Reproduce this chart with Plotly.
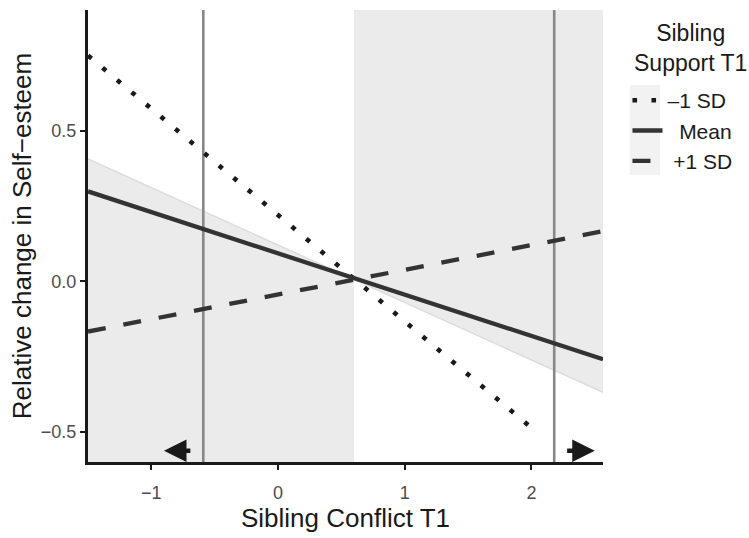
import plotly.graph_objects as go

# ---- data ----
x_range = [-1.5, 2.565]
y_range = [-0.6, 0.9]

minus_sd_x = [-1.5, 2.05]
minus_sd_y = [0.749, -0.504]

mean_x = [-1.5, 2.565]
mean_y = [0.298, -0.259]

plus_sd_x = [-1.5, 2.565]
plus_sd_y = [-0.167, 0.166]

band_x = [-1.5, 0.6, 2.565]
band_y = [0.406, 0.005, -0.369]

jn_point = 0.6
vlines_x = [-0.59, 2.18]

arrow_left = {"x": [-0.68, -0.90], "y": -0.563}
arrow_right = {"x": [2.27, 2.50], "y": -0.563}

x_ticks = [-1, 0, 1, 2]
x_tick_labels = ["\u22121", "0", "1", "2"]
y_ticks = [-0.5, 0.0, 0.5]
y_tick_labels = ["\u22120.5", "0.0", "0.5"]

NB = "\u00a0"
series_names = ["\u20131 SD", NB * 2 + "Mean", NB + "+1 SD"]
legend_title = "Sibling<br>Support T1"

FONT = "Liberation Sans, Arial, sans-serif"
FILL = "#ebebeb"

fig = go.Figure()

# shaded regions (significance ribbon)
left_x = [band_x[0], band_x[1], band_x[1], band_x[0]]
left_y = [band_y[0], band_y[1], y_range[0], y_range[0]]
fig.add_trace(go.Scatter(x=left_x, y=left_y, fill="toself", fillcolor=FILL,
                         line=dict(width=0), mode="lines", showlegend=False,
                         hoverinfo="skip"))
right_x = [band_x[1], band_x[2], band_x[2], band_x[1]]
right_y = [band_y[1], band_y[2], y_range[1], y_range[1]]
fig.add_trace(go.Scatter(x=right_x, y=right_y, fill="toself", fillcolor=FILL,
                         line=dict(width=0), mode="lines", showlegend=False,
                         hoverinfo="skip"))
# faint ribbon edge
fig.add_trace(go.Scatter(x=band_x, y=band_y, mode="lines",
                         line=dict(color="#dcdcdc", width=1.5),
                         showlegend=False, hoverinfo="skip"))

# vertical reference lines
for vx in vlines_x:
    fig.add_trace(go.Scatter(x=[vx, vx], y=y_range, mode="lines",
                             line=dict(color="#878787", width=2.6),
                             showlegend=False, hoverinfo="skip"))

# regression lines
fig.add_trace(go.Scatter(x=minus_sd_x, y=minus_sd_y, mode="lines",
                         name=series_names[0],
                         line=dict(color="#1a1a1a", width=4.6, dash="4.6px,14.4px")))
fig.add_trace(go.Scatter(x=mean_x, y=mean_y, mode="lines",
                         name=series_names[1],
                         line=dict(color="#333333", width=4.3)))
fig.add_trace(go.Scatter(x=plus_sd_x, y=plus_sd_y, mode="lines",
                         name=series_names[2],
                         line=dict(color="#333333", width=4.3, dash="18px,18px")))

# arrows
for a in (arrow_left, arrow_right):
    fig.add_annotation(x=a["x"][1], y=a["y"], ax=a["x"][0], ay=a["y"],
                       xref="x", yref="y", axref="x", ayref="y",
                       showarrow=True, arrowhead=2, arrowsize=1.0,
                       arrowwidth=4.5, arrowcolor="#1a1a1a", text="")

# legend title (centred, two lines)
fig.add_annotation(x=1.169, y=0.917, xref="paper", yref="paper",
                   xanchor="center", yanchor="middle", showarrow=False,
                   align="center", text=legend_title,
                   font=dict(size=23, color="#1a1a1a"))

# legend key background
fig.add_shape(type="rect", xref="paper", yref="paper",
              x0=1.052, x1=1.111, y0=0.635, y1=0.834,
              fillcolor="#f2f2f2", line=dict(width=0), layer="below")

fig.update_layout(
    width=749, height=538,
    margin=dict(l=88, r=146, t=10, b=76, autoexpand=False),
    paper_bgcolor="white", plot_bgcolor="white",
    font=dict(family=FONT, color="#1a1a1a"),
    showlegend=True,
    legend=dict(
        x=1.0475, y=0.845, xanchor="left", yanchor="top",
        font=dict(size=21, color="#1a1a1a"),
        itemwidth=30, traceorder="normal",
        bgcolor="rgba(0,0,0,0)",
    ),
    xaxis=dict(range=x_range, showgrid=False, zeroline=False,
               showline=True, linecolor="#1a1a1a", linewidth=3,
               ticks="outside", ticklen=5, tickwidth=2, tickcolor="#1a1a1a",
               tickvals=x_ticks, ticktext=x_tick_labels, ticklabelstandoff=7,
               tickfont=dict(size=18, color="#4d4d4d"),
               title=dict(text="Sibling Conflict T1", font=dict(size=26),
                          standoff=4)),
    yaxis=dict(range=y_range, showgrid=False, zeroline=False,
               showline=True, linecolor="#1a1a1a", linewidth=3,
               ticks="outside", ticklen=5, tickwidth=2, tickcolor="#1a1a1a",
               tickvals=y_ticks, ticktext=y_tick_labels,
               tickfont=dict(size=18, color="#4d4d4d"),
               title=dict(text="Relative change in Self\u2212esteem",
                          font=dict(size=26), standoff=2)),
)

fig.write_html("out.html", config={"displayModeBar": False},
               post_script="document.body.style.margin='0px';")
